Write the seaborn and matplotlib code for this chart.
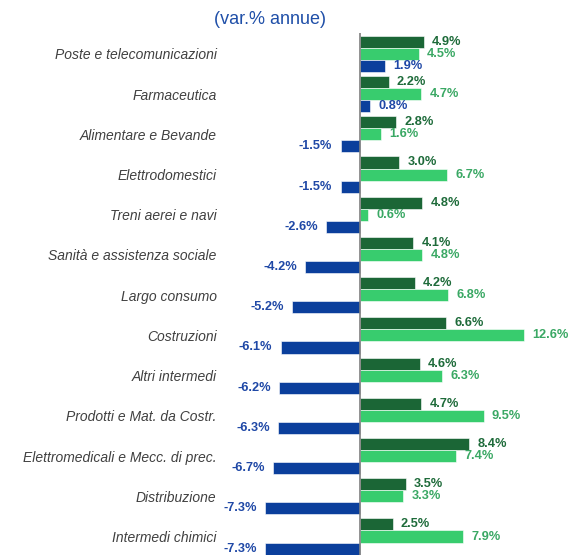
import pandas as pd
import matplotlib.pyplot as plt
import seaborn as sns

# Settori e variazioni % annue (tre serie per settore)
settori = ["Poste e telecomunicazioni", "Farmaceutica", "Alimentare e Bevande",
           "Elettrodomestici", "Treni aerei e navi", "Sanità e assistenza sociale",
           "Largo consumo", "Costruzioni", "Altri intermedi", "Prodotti e Mat. da Costr.",
           "Elettromedicali e Mecc. di prec.", "Distribuzione", "Intermedi chimici"]
serie_1 = [4.9, 2.2, 2.8, 3.0, 4.8, 4.1, 4.2, 6.6, 4.6, 4.7, 8.4, 3.5, 2.5]
serie_2 = [4.5, 4.7, 1.6, 6.7, 0.6, 4.8, 6.8, 12.6, 6.3, 9.5, 7.4, 3.3, 7.9]
serie_3 = [1.9, 0.8, -1.5, -1.5, -2.6, -4.2, -5.2, -6.1, -6.2, -6.3, -6.7, -7.3, -7.3]
nomi_serie = ["serie 1", "serie 2", "serie 3"]

df = pd.DataFrame({
    "settore": settori * 3,
    "var": serie_1 + serie_2 + serie_3,
    "serie": [nomi_serie[0]] * 13 + [nomi_serie[1]] * 13 + [nomi_serie[2]] * 13,
})

colori_barre = ["#1b6636", "#38cc6e", "#0b3f9c"]
colori_etich = ["#1e6b3a", "#3aa864", "#1f48a6"]

sns.set_style("white")
plt.rcParams["font.family"] = ["Liberation Sans", "DejaVu Sans"]

fig = plt.figure(figsize=(5.76, 5.55), dpi=100)
ax = fig.add_axes([250 / 576, 0, 326 / 576, (555 - 33) / 555])

sns.barplot(data=df, y="settore", x="var", hue="serie", hue_order=nomi_serie,
            palette=colori_barre, saturation=1, orient="h", width=0.9, ax=ax,
            legend=False, edgecolor="white", linewidth=0.4)

for cont, col in zip(ax.containers, colori_etich):
    etich = ax.bar_label(cont, fmt="%.1f%%", padding=6, color=col,
                         fontsize=9.2, fontweight="bold")
    for t in etich:
        t.set_clip_on(False)

ax.set_xlim(-110 / 13, 216 / 13)
ax.set_ylim(12.46, -0.52)
ax.axvline(0, color="#7f7f7f", lw=1.2)
for s in ax.spines.values():
    s.set_visible(False)
ax.set_xticks([])
ax.set_xlabel("")
ax.set_ylabel("")
ax.tick_params(axis="y", length=0, pad=24)
for lab in ax.get_yticklabels():
    lab.set_fontstyle("italic")
    lab.set_color("#404040")
    lab.set_fontsize(10)

fig.text(250 / 576 + 0.035, 1 - 20 / 555, "(var.% annue)", color="#1f4fa8",
         fontsize=13, ha="center", va="center")

plt.savefig("out.png", dpi=100)
